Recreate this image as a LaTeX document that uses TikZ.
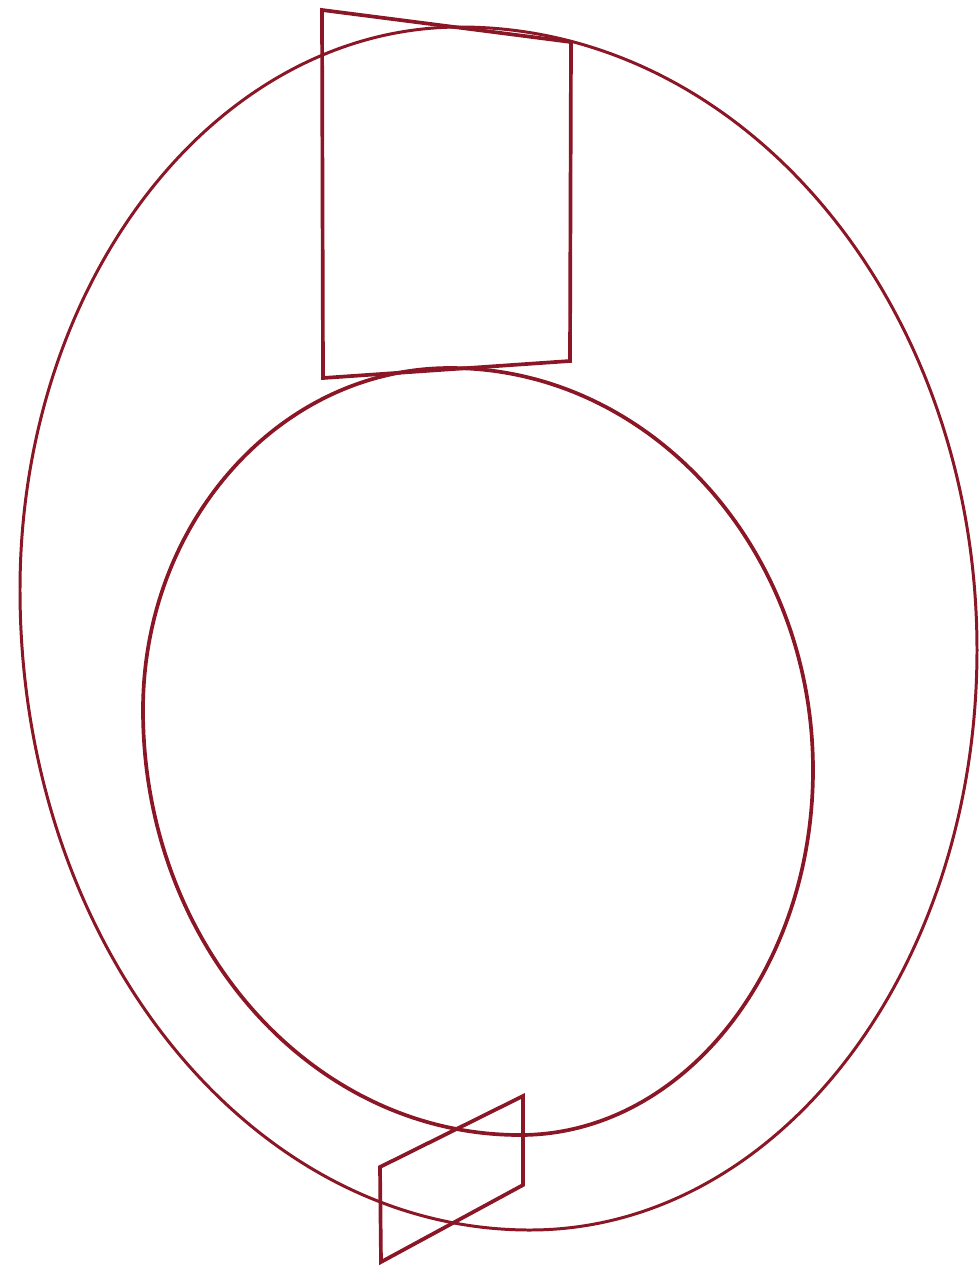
\documentclass[tikz,border=0pt]{standalone}
\definecolor{darkred}{RGB}{139,22,38}
\begin{document}
\begin{tikzpicture}[x=0.01cm,y=-0.01cm,
  ringline/.style={draw=darkred,line width=0.85pt},
  plateline/.style={draw=darkred,line width=1.05pt,line join=miter}]
\useasboundingbox (0,0) rectangle (980,1266);

\draw[ringline]
(460,27) .. controls (747,27) and (977,306) .. (977,650)
.. controls (977,970) and (778,1230) .. (530,1230)
.. controls (248,1230) and (20,943) .. (20,590)
.. controls (20,279) and (217,27) .. (460,27) -- cycle;

\draw[ringline,line width=1.05pt]
(450,368) .. controls (650,368) and (813,548) .. (813,770)
.. controls (813,971) and (682,1135) .. (520,1135)
.. controls (312,1135) and (143,945) .. (143,710)
.. controls (143,521) and (281,368) .. (450,368) -- cycle;

\draw[plateline] (322,10) -- (571,42) -- (570,361) -- (323,378) -- cycle;
\draw[plateline] (380,1167) -- (523,1096) -- (523,1185) -- (381,1262) -- cycle;
\end{tikzpicture}
\end{document}
